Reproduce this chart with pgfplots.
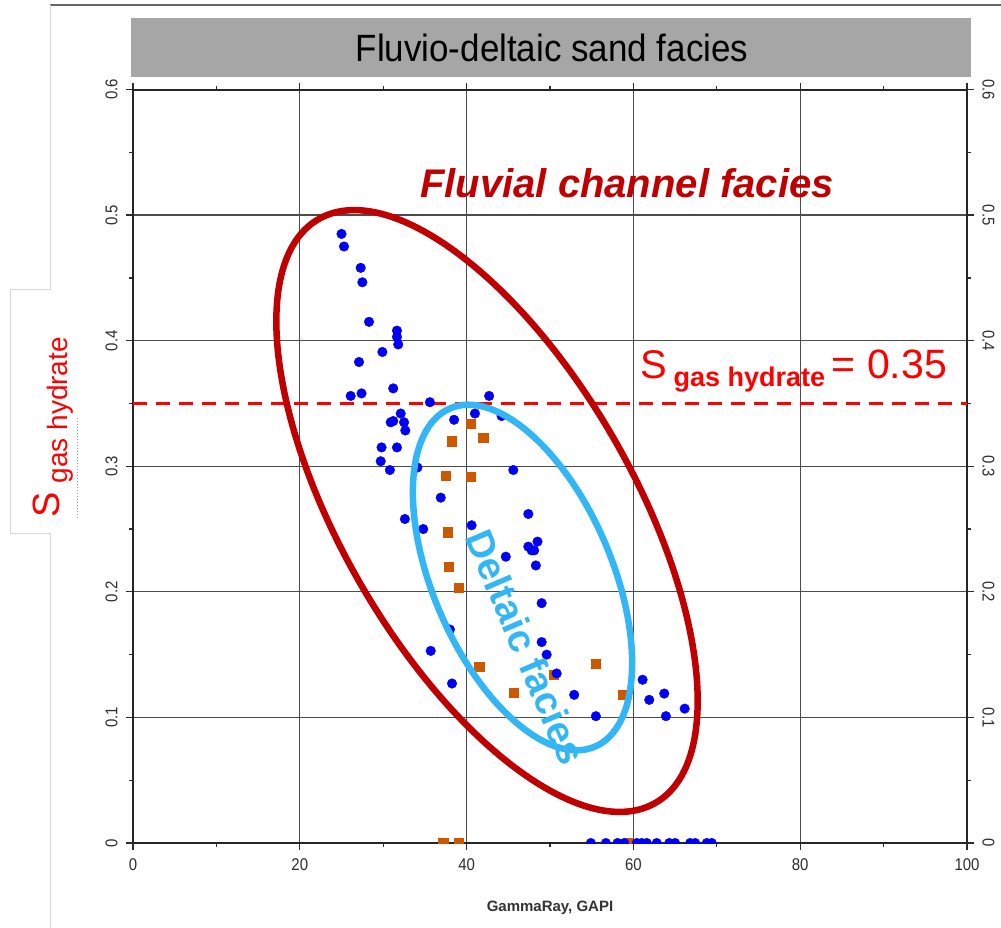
\documentclass[border=0pt]{standalone}
\usepackage{pgfplots}
\pgfplotsset{compat=1.18}
\usepackage{fontspec}
\setmainfont{Liberation Sans}

\definecolor{hydblue}{RGB}{0,0,245}
\definecolor{deltorange}{RGB}{204,88,0}
\definecolor{fluvred}{RGB}{192,0,0}
\definecolor{deltblue}{RGB}{51,182,246}
\definecolor{titlegray}{RGB}{166,166,166}
\definecolor{tickgray}{RGB}{45,45,45}
\definecolor{framegray}{RGB}{215,215,215}

\pgfplotsset{
  commonaxis/.style={
    at={(133pt,-843pt)}, anchor=south west,
    width=834pt, height=753.5pt, scale only axis,
    xmin=0, xmax=100, ymin=0, ymax=0.6,
    xtick={0,20,40,60,80,100}, xticklabels={0,20,40,60,80,100},
    ytick={0,0.1,0.2,0.3,0.4,0.5,0.6},
    yticklabels={0,0.1,0.2,0.3,0.4,0.5,0.6},
    minor x tick num=1, minor y tick num=1,
    tick align=outside, major tick length=7pt, minor tick length=4pt,
    every tick/.style={draw=tickgray, line width=1.3pt},
    axis line style={draw=black!85, line width=2pt},
    ticklabel style={font=\fontsize{17}{17}\selectfont, text=tickgray},
    xticklabel style={xscale=0.88},
    xticklabel shift=5pt, yticklabel shift=5pt,
  }
}

\begin{document}
\begin{tikzpicture}
\useasboundingbox (0pt,0pt) rectangle (1001pt,-928pt);

% slide frame
\draw[black!60, line width=1.3pt] (50pt,-5pt) -- (1001pt,-5pt);
\draw[framegray, line width=1pt] (50pt,-5pt) -- (50pt,-289pt) -- (10pt,-289pt)
  -- (10pt,-533pt) -- (50pt,-533pt) -- (50pt,-928pt);
\draw[black!40, line width=1pt, dotted] (77pt,-418pt) -- (77pt,-518pt);

% title banner
\fill[titlegray] (131pt,-18pt) rectangle (971pt,-77pt);
\node[font=\fontsize{38}{38}\selectfont, xscale=0.92] at (552pt,-48pt) {Fluvio-deltaic sand facies};

% secondary axis carrying the right-hand tick labels
\begin{axis}[commonaxis,
  axis x line=none, axis y line*=right,
  yticklabel style={rotate=-90, anchor=south, xscale=0.88},
]
\end{axis}

\begin{axis}[commonaxis,
  grid=major, major grid style={draw=black!70, line width=1.3pt},
  yticklabel style={rotate=90, anchor=south, xscale=0.88},
  clip marker paths=true,
]
% hydrate saturation cut-off
\addplot[red, line width=3pt, dash pattern=on 14pt off 9pt] coordinates {(0,0.35) (100,0.35)};

% deltaic samples
\addplot[only marks, mark=square*, mark size=4.6pt,
  mark options={fill=deltorange, draw=deltorange}] coordinates {
(40.45,0.334) (38.2,0.320) (42.0,0.323) (37.45,0.2926) (40.45,0.2918)
(37.7,0.2475) (37.85,0.220) (39.1,0.2034) (41.5,0.1405) (45.6,0.120)
(50.4,0.134) (55.5,0.143) (58.7,0.118)
(37.2,0) (39.05,0) (59.4,0)
};

% fluvial samples
\addplot[only marks, mark=*, mark size=4.8pt,
  mark options={fill=hydblue, draw=hydblue}] coordinates {
(25.0,0.485) (25.3,0.475) (27.3,0.458) (27.5,0.4465) (28.3,0.415)
(31.65,0.408) (31.65,0.403) (31.8,0.397) (29.9,0.391) (27.1,0.383)
(26.1,0.356) (27.4,0.358) (31.2,0.362) (35.6,0.351) (42.7,0.356)
(32.1,0.342) (30.9,0.335) (31.2,0.336) (32.5,0.335) (32.65,0.3285)
(38.5,0.337) (41.0,0.342) (44.2,0.340) (29.8,0.315) (31.65,0.315)
(29.7,0.304) (30.8,0.297) (34.1,0.299) (36.9,0.275) (32.6,0.258)
(34.8,0.250) (40.6,0.253) (45.6,0.297) (47.4,0.262) (48.5,0.240)
(47.4,0.236) (47.8,0.233) (48.1,0.233) (44.7,0.228) (48.3,0.221)
(49.0,0.191) (49.0,0.160) (49.6,0.150) (38.0,0.170) (35.7,0.153)
(38.25,0.127) (50.8,0.135) (52.9,0.118) (55.5,0.101) (61.1,0.130)
(61.9,0.114) (63.7,0.119) (63.9,0.101) (66.15,0.107)
(54.9,0) (56.7,0) (58.1,0) (58.9,0) (60.4,0) (61.0,0) (61.6,0)
(62.8,0) (64.3,0) (65.0,0) (66.8,0) (67.4,0) (68.8,0) (69.4,0)
};
\end{axis}

% facies outlines
\draw[fluvred, line width=6.5pt] (487pt,-511pt) ellipse [x radius=337pt, y radius=146pt, rotate=-60];
\draw[deltblue, line width=6.5pt] (522.5pt,-577.5pt) ellipse [x radius=184pt, y radius=89.5pt, rotate=-66.8];

% annotations
\node[fluvred, font=\fontsize{40}{40}\selectfont\bfseries\itshape] at (627pt,-183pt) {Fluvial channel facies};
\node[deltblue, font=\fontsize{39}{39}\selectfont\bfseries, rotate=-67] at (526pt,-647pt) {Deltaic facies};
\node[red, anchor=base west, inner sep=0pt] at (640pt,-378pt)
  {\fontsize{40}{40}\selectfont S\,\raisebox{-8pt}{\fontsize{27}{27}\selectfont\bfseries gas hydrate}\,\fontsize{41}{41}\selectfont= 0.35};
\node[red, anchor=base west, inner sep=0pt, rotate=90] at (59pt,-518pt)
  {\fontsize{38}{38}\selectfont S\hspace{9pt}\raisebox{-8pt}{\fontsize{28}{28}\selectfont gas hydrate}};
\node[text=black!80, font=\fontsize{15}{15}\selectfont\bfseries] at (550pt,-908pt) {GammaRay, GAPI};
\end{tikzpicture}
\end{document}
